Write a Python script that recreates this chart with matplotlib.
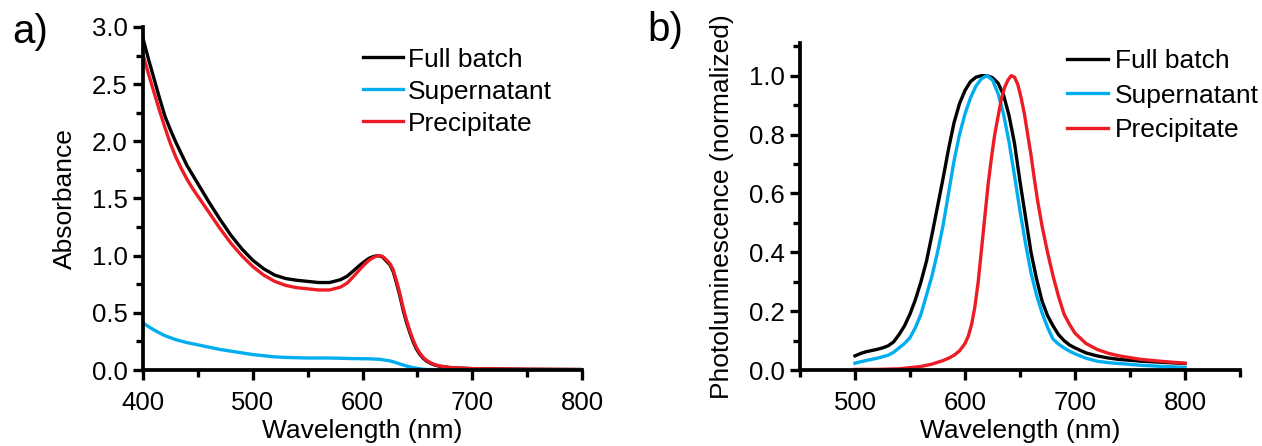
import matplotlib
matplotlib.use("Agg")
import matplotlib.pyplot as plt
from matplotlib.ticker import MultipleLocator

plt.rcParams['font.family'] = ['Liberation Sans', 'DejaVu Sans']
plt.rcParams['font.size'] = 19

# ---- panel a) absorbance ----
abs_wl = [400, 405, 410, 415, 420, 425, 430, 435, 440, 445, 450, 460, 470, 480,
          490, 500, 510, 520, 530, 540, 550, 560, 570, 580, 586, 592, 598, 602,
          606, 610, 614, 618, 621, 625, 628, 631, 634, 637, 640, 643, 646, 649,
          652, 655, 658, 662, 666, 670, 680, 700, 750, 800]
abs_full = [2.90, 2.72, 2.55, 2.38, 2.22, 2.10, 1.99, 1.89, 1.79, 1.71, 1.63, 1.47,
            1.32, 1.18, 1.06, 0.96, 0.885, 0.83, 0.80, 0.785, 0.775, 0.765, 0.765,
            0.79, 0.82, 0.87, 0.92, 0.95, 0.977, 0.993, 1.00, 0.99, 0.96, 0.92,
            0.86, 0.76, 0.65, 0.525, 0.42, 0.33, 0.25, 0.185, 0.14, 0.105, 0.08,
            0.058, 0.043, 0.033, 0.02, 0.012, 0.006, 0.004]
abs_prec = [2.76, 2.59, 2.43, 2.27, 2.12, 1.98, 1.86, 1.76, 1.67, 1.59, 1.52, 1.38,
            1.24, 1.11, 1.00, 0.905, 0.83, 0.775, 0.74, 0.72, 0.71, 0.70, 0.70,
            0.725, 0.76, 0.82, 0.885, 0.925, 0.96, 0.985, 1.00, 0.995, 0.97, 0.93,
            0.875, 0.78, 0.67, 0.545, 0.44, 0.345, 0.265, 0.20, 0.15, 0.113, 0.087,
            0.063, 0.047, 0.036, 0.022, 0.012, 0.007, 0.004]
abs_sup_wl = [400, 410, 420, 430, 440, 450, 460, 470, 480, 490, 500, 510, 520, 530,
              550, 570, 590, 605, 615, 625, 630, 635, 640, 645, 650, 655, 660, 680,
              800]
abs_sup = [0.41, 0.35, 0.30, 0.265, 0.24, 0.22, 0.20, 0.18, 0.165, 0.15, 0.135,
           0.125, 0.115, 0.11, 0.105, 0.105, 0.10, 0.098, 0.094, 0.08, 0.066, 0.05,
           0.035, 0.023, 0.014, 0.007, 0.004, 0.001, 0.0]

# ---- panel b) photoluminescence ----
pl_wl = [500, 505, 510, 515, 520, 525, 530, 535, 540, 545, 550, 555, 560, 565, 570,
         575, 580, 585, 590, 595, 600, 605, 610, 615, 620, 625, 630, 635, 640, 645,
         650, 655, 660, 665, 670, 675, 680, 685, 690, 695, 700, 710, 720, 730, 740,
         760, 780, 800]
pl_full = [0.048, 0.056, 0.062, 0.066, 0.070, 0.075, 0.082, 0.095, 0.12, 0.15, 0.19,
           0.24, 0.30, 0.37, 0.46, 0.555, 0.65, 0.75, 0.84, 0.905, 0.95, 0.98,
           0.995, 1.00, 1.00, 0.993, 0.975, 0.935, 0.865, 0.77, 0.64, 0.52, 0.40,
           0.31, 0.235, 0.185, 0.15, 0.12, 0.10, 0.085, 0.075, 0.058, 0.048, 0.041,
           0.036, 0.030, 0.026, 0.022]
pl_sup = [0.023, 0.028, 0.032, 0.036, 0.040, 0.045, 0.050, 0.060, 0.075, 0.09, 0.11,
          0.145, 0.19, 0.255, 0.32, 0.40, 0.49, 0.60, 0.71, 0.80, 0.87, 0.925,
          0.965, 0.99, 1.00, 0.985, 0.94, 0.87, 0.775, 0.66, 0.54, 0.43, 0.33,
          0.255, 0.195, 0.145, 0.105, 0.088, 0.075, 0.064, 0.055, 0.040, 0.030,
          0.025, 0.022, 0.016, 0.012, 0.009]
pl_prec_wl = [500, 520, 540, 550, 560, 570, 580, 585, 590, 595, 600, 603, 606, 609,
              612, 615, 618, 621, 624, 627, 630, 633, 636, 639, 642, 645, 648, 651,
              654, 657, 660, 663, 666, 670, 675, 680, 685, 690, 695, 700, 710, 720,
              730, 740, 760, 780, 800]
pl_prec = [0.002, 0.002, 0.004, 0.008, 0.012, 0.02, 0.032, 0.04, 0.05, 0.065, 0.09,
           0.115, 0.155, 0.215, 0.30, 0.41, 0.52, 0.63, 0.72, 0.80, 0.86, 0.92, 0.96,
           0.985, 1.00, 0.995, 0.97, 0.925, 0.87, 0.80, 0.73, 0.65, 0.575, 0.49,
           0.40, 0.32, 0.25, 0.19, 0.155, 0.125, 0.09, 0.07, 0.057, 0.048, 0.036,
           0.029, 0.023]

labels = ["Full batch", "Supernatant", "Precipitate"]
c_black, c_blue, c_red = "#000000", "#00AEEF", "#ED1C24"
lw = 2.4

fig = plt.figure(figsize=(12.62, 4.46), dpi=100)
ax1 = fig.add_axes([0.1133, 0.1704, 0.3479, 0.7691])
ax2 = fig.add_axes([0.6339, 0.1704, 0.3487, 0.7325])


def style(ax):
    for s in ("top", "right"):
        ax.spines[s].set_visible(False)
    for s in ("left", "bottom"):
        ax.spines[s].set_linewidth(2.7)
    ax.tick_params(which="major", direction="out", length=7, width=2.4, pad=4,
                   labelsize=18.5)
    ax.tick_params(which="minor", direction="out", length=5, width=2.4)
    ax.tick_params(axis="x", which="major", pad=8)


h_full, = ax1.plot(abs_wl, abs_full, color=c_black, lw=lw)
h_prec, = ax1.plot(abs_wl, abs_prec, color=c_red, lw=lw)
h_sup, = ax1.plot(abs_sup_wl, abs_sup, color=c_blue, lw=lw)
ax1.set_xlim(400, 800)
ax1.set_ylim(0, 3.0)
ax1.xaxis.set_major_locator(MultipleLocator(100))
ax1.xaxis.set_minor_locator(MultipleLocator(50))
ax1.yaxis.set_major_locator(MultipleLocator(0.5))
ax1.yaxis.set_minor_locator(MultipleLocator(0.25))
ax1.yaxis.set_major_formatter(plt.FormatStrFormatter("%.1f"))
ax1.set_xlabel("Wavelength (nm)", fontsize=19, labelpad=3)
ax1.set_ylabel("Absorbance", fontsize=19, labelpad=11)
style(ax1)
fig.legend([h_full, h_sup, h_prec], labels, loc="upper left",
           bbox_to_anchor=(0.2876, 0.893), frameon=False, fontsize=19,
           borderpad=0, borderaxespad=0, handlelength=1.5, handletextpad=0.2,
           labelspacing=0.3)

g_full, = ax2.plot(pl_wl, pl_full, color=c_black, lw=lw)
g_sup, = ax2.plot(pl_wl, pl_sup, color=c_blue, lw=lw)
g_prec, = ax2.plot(pl_prec_wl, pl_prec, color=c_red, lw=lw)
ax2.set_xlim(450, 850)
ax2.set_ylim(0, 1.11)
ax2.set_xticks([500, 600, 700, 800])
ax2.xaxis.set_minor_locator(MultipleLocator(50))
ax2.yaxis.set_major_locator(MultipleLocator(0.2))
ax2.yaxis.set_minor_locator(MultipleLocator(0.1))
ax2.yaxis.set_major_formatter(plt.FormatStrFormatter("%.1f"))
ax2.set_xlabel("Wavelength (nm)", fontsize=19, labelpad=3)
ax2.set_ylabel("Photoluminescence (normalized)", fontsize=19, labelpad=11)
style(ax2)
fig.legend([g_full, g_sup, g_prec], labels, loc="upper left",
           bbox_to_anchor=(0.8452, 0.890), frameon=False, fontsize=19,
           borderpad=0, borderaxespad=0, handlelength=1.55, handletextpad=0.27,
           labelspacing=0.4)

fig.text(0.0095, 0.929, "a)", fontsize=29, va="center", ha="left")
fig.text(0.5127, 0.933, "b)", fontsize=29, va="center", ha="left")

fig.savefig("out.png", dpi=100)
